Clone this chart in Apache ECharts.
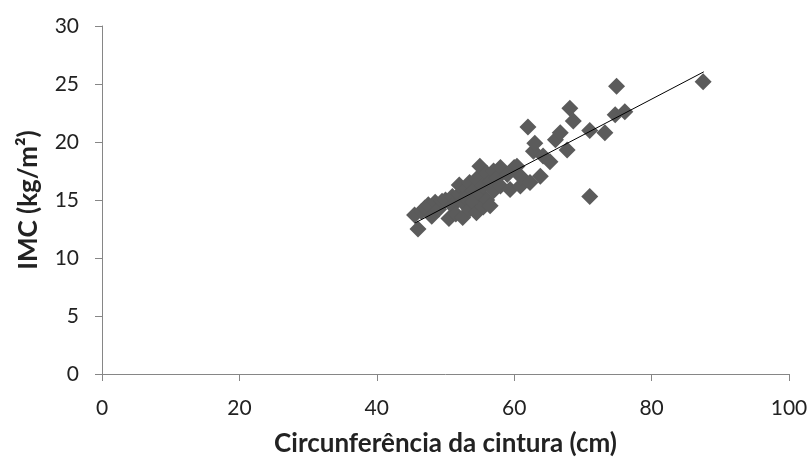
<!DOCTYPE html>
<html><head><meta charset="utf-8">
<script src="https://cdn.jsdelivr.net/npm/echarts@6/dist/echarts.min.js"></script>
<style>html,body{margin:0;padding:0;background:#fff}#c{width:811px;height:462px}</style>
</head><body><div id="c"></div>
<script>
const xTitle = 'Circunferência da cintura (cm)';
const yTitle = 'IMC (kg/m²)';
const waist = [45.5,46,46.5,47,47.5,48,48.5,49,49.5,50,50.5,51,51,51.5,52,52,52.5,52.5,53,53,53.5,53.5,54,54,54.5,54.5,55,55,55.5,55.5,56,56,56.5,56.5,57,57,57.5,58,58,59,59.4,60,60.4,60.9,61,62,62.3,62.8,63,63.8,64.2,65.2,66,66.7,67.7,68.1,68.6,71,71,73.2,74.7,74.9,76.1,87.5];
const bmi   = [13.7,12.5,14.0,14.3,14.6,13.6,14.8,14.2,14.9,15.0,13.4,15.3,14.5,13.8,15.5,16.3,14.8,13.5,16.0,15.2,14.2,16.5,15.8,14.8,13.9,16.8,17.9,15.5,16.2,14.4,17.3,15.0,16.6,14.5,17.5,15.8,16.9,16.2,17.8,17.2,15.9,17.8,17.9,16.2,17.0,21.3,16.5,19.2,19.9,17.05,18.8,18.3,20.2,20.8,19.3,22.9,21.8,21.0,15.3,20.8,22.35,24.8,22.6,25.2];
const trendX = [45.5, 87.6];
const trendY = [13.0, 26.05];
const xTicks = [0,20,40,60,80,100];
const yTicks = [0,5,10,15,20,25,30];

const font = 'Lato, "Open Sans", sans-serif';
const chart = echarts.init(document.getElementById('c'));
const axisCommon = {
  axisLine:{show:true,lineStyle:{color:'#868686',width:1}},
  axisTick:{show:true,length:7,lineStyle:{color:'#868686'}},
  splitLine:{show:false},
  axisLabel:{color:'#222',fontSize:21,fontFamily:font},
  nameTextStyle:{color:'#222',fontSize:26,fontWeight:'bold',fontFamily:font}
};
chart.setOption({
  animation:false,
  grid:{left:102,right:22,top:26,bottom:87,containLabel:false},
  xAxis:Object.assign({}, axisCommon, {
    type:'value', min:xTicks[0], max:xTicks[xTicks.length-1], interval:20,
    name:xTitle, nameLocation:'middle', nameGap:57,
    axisLabel:Object.assign({}, axisCommon.axisLabel, {margin:24})
  }),
  yAxis:Object.assign({}, axisCommon, {
    type:'value', min:yTicks[0], max:yTicks[yTicks.length-1], interval:5,
    name:yTitle, nameLocation:'middle', nameGap:60, nameRotate:90,
    axisLabel:Object.assign({}, axisCommon.axisLabel, {margin:23})
  }),
  series:[
    {type:'scatter', symbol:'diamond', symbolSize:17,
     itemStyle:{color:'#5b5b5b',opacity:1},
     data:waist.map((x,i)=>[x,bmi[i]])},
    {type:'line', symbol:'none', lineStyle:{color:'#000',width:1},
     data:trendX.map((x,i)=>[x,trendY[i]]), z:5}
  ]
});
</script></body></html>
